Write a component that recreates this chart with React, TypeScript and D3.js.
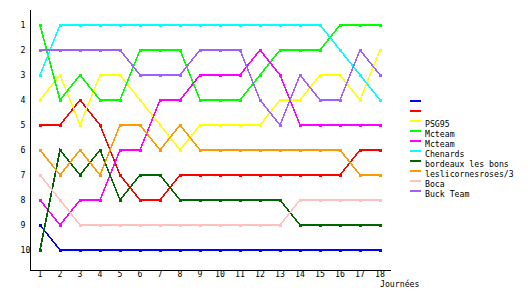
import React from "react";
import * as d3 from "d3";

const days = d3.range(1, 19);
const rankTicks = [1, 2, 3, 4, 5, 6, 7, 8, 9, 10];
const seriesNames = ["", "", "PSG95", "Mcteam", "Mcteam", "Chenards", "bordeaux les bons", "leslicornesroses/3", "Boca", "Buck Team"];
const seriesColors = ["#0000FF", "#FF0000", "#FFFF00", "#00FF00", "#FF00FF", "#00FFFF", "#006600", "#FF9900", "#FFC0C0", "#A060FF"];

const blue = [9, 10, 10, 10, 10, 10, 10, 10, 10, 10, 10, 10, 10, 10, 10, 10, 10, 10];
const red = [5, 5, 4, 5, 7, 8, 8, 7, 7, 7, 7, 7, 7, 7, 7, 7, 6, 6];
const yellow = [4, 3, 5, 3, 3, 4, 5, 6, 5, 5, 5, 5, 4, 4, 3, 3, 4, 2];
const lime = [1, 4, 3, 4, 4, 2, 2, 2, 4, 4, 4, 3, 2, 2, 2, 1, 1, 1];
const magenta = [8, 9, 8, 8, 6, 6, 4, 4, 3, 3, 3, 2, 3, 5, 5, 5, 5, 5];
const cyan = [3, 1, 1, 1, 1, 1, 1, 1, 1, 1, 1, 1, 1, 1, 1, 2, 3, 4];
const darkGreen = [10, 6, 7, 6, 8, 7, 7, 8, 8, 8, 8, 8, 8, 9, 9, 9, 9, 9];
const orange = [6, 7, 6, 7, 5, 5, 6, 5, 6, 6, 6, 6, 6, 6, 6, 6, 7, 7];
const pink = [7, 8, 9, 9, 9, 9, 9, 9, 9, 9, 9, 9, 9, 8, 8, 8, 8, 8];
const purple = [2, 2, 2, 2, 2, 3, 3, 3, 2, 2, 2, 4, 5, 3, 4, 4, 2, 3];

const seriesValues = [blue, red, yellow, lime, magenta, cyan, darkGreen, orange, pink, purple];

const W = 530;
const H = 300;
const FONT = "'DejaVu Sans Mono', monospace";

export default function App() {
  const x = d3.scaleLinear().domain([1, 18]).range([40, 380]);
  const y = d3.scaleLinear().domain([1, 10]).range([25, 250]);
  const line = d3
    .line<number>()
    .x((_, i) => x(days[i]))
    .y((v) => y(v));

  const axisX0 = x(0.5);
  const axisY0 = y(10.8);
  const axisTop = y(0.4);
  const axisRight = x(18.55);

  return (
    <svg
      width={W}
      height={H}
      style={{ position: "absolute", left: 0, top: 0, background: "#fff" }}
      fontFamily={FONT}
      fontSize={8.2}
    >
      <rect x={0} y={0} width={W} height={H} fill="#fff" />
      {seriesValues.map((vals, si) => (
        <g key={si}>
          <path
            d={line(vals) || ""}
            fill="none"
            stroke={seriesColors[si]}
            strokeWidth={1.6}
            shapeRendering="crispEdges"
          />
          {vals.map((v, i) => (
            <rect
              key={i}
              x={x(days[i]) - 1.5}
              y={y(v) - 1.5}
              width={3}
              height={3}
              fill={seriesColors[si]}
              shapeRendering="crispEdges"
            />
          ))}
        </g>
      ))}
      <line x1={axisX0} y1={axisTop} x2={axisX0} y2={axisY0} stroke="#000" strokeWidth={1} shapeRendering="crispEdges" />
      <line x1={axisX0} y1={axisY0} x2={axisRight} y2={axisY0} stroke="#000" strokeWidth={1} shapeRendering="crispEdges" />
      {rankTicks.map((r) => (
        <text key={r} x={20.5} y={y(r) + 3} fill="#000">
          {r}
        </text>
      ))}
      {days.map((d) => (
        <text key={d} x={x(d)} y={y(10.8) + 7} textAnchor="middle" fill="#000">
          {d}
        </text>
      ))}
      <text x={380} y={y(10.8) + 17} fill="#000">
        Journées
      </text>
      {seriesNames.map((name, i) => {
        const ly = 100.5 + i * 10.1;
        return (
          <g key={i}>
            <line x1={410} x2={421} y1={ly} y2={ly} stroke={seriesColors[i]} strokeWidth={2} shapeRendering="crispEdges" />
            <text x={425} y={ly + 6} fill="#000">
              {name}
            </text>
          </g>
        );
      })}
    </svg>
  );
}
